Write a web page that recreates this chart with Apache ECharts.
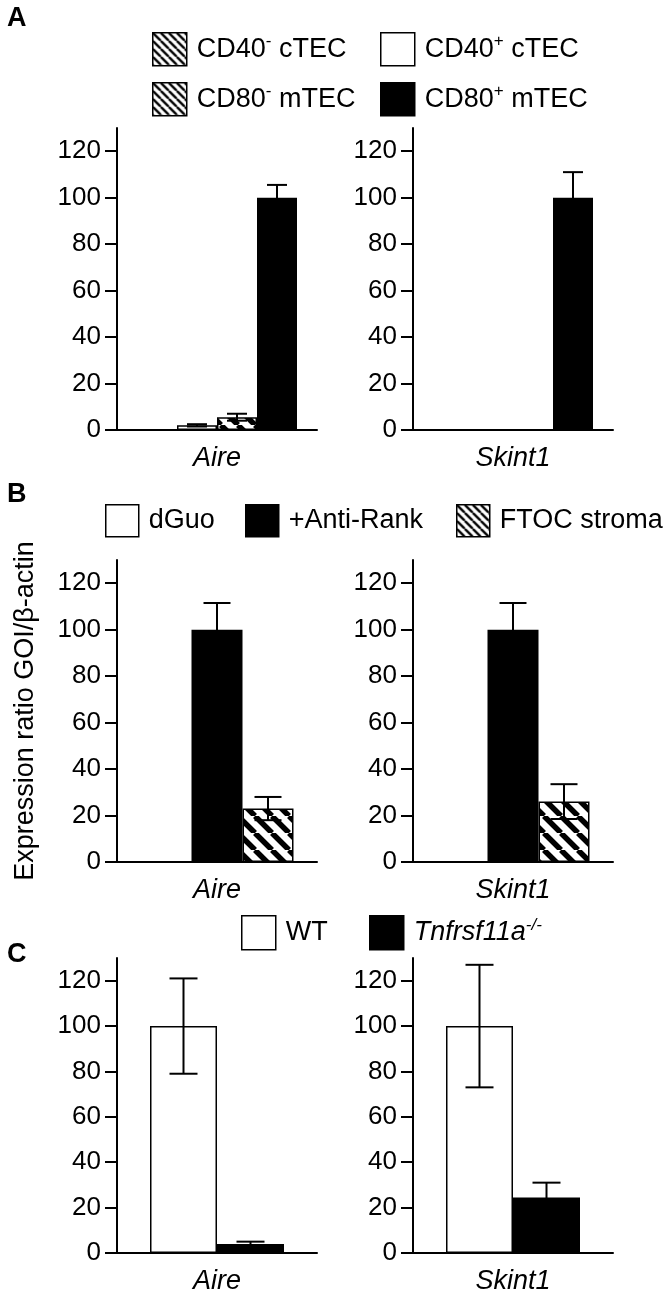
<!DOCTYPE html>
<html>
<head>
<meta charset="utf-8">
<script src="https://cdn.jsdelivr.net/npm/echarts@6.0.0/dist/echarts.min.js"></script>
<style>
  html, body { margin: 0; padding: 0; background: #fff; }
  #chart { width: 664px; height: 1295px; }
</style>
</head>
<body>
<div id="chart"></div>
<script>
const genes = ['Aire', 'Skint1'];
const yTicks = [0, 20, 40, 60, 80, 100, 120];

// panel A: sorted TEC subsets
const aGroups = ['CD40- cTEC', 'CD40+ cTEC', 'CD80- mTEC', 'CD80+ mTEC'];
const aAire = [0, 2, 5.5, 100];
const aAireErr = [0, 0.5, 1.5, 5.5];
const aSkint = [0, 0, 0, 100];
const aSkintErr = [0, 0, 0, 11];

// panel B: FTOC treatments
const bGroups = ['dGuo', '+Anti-Rank', 'FTOC stroma'];
const bAire = [0, 100, 23];
const bAireErr = [0, 11.5, 5];
const bSkint = [0, 100, 26];
const bSkintErr = [0, 11.5, 7.5];

// panel C: genotypes
const cGroups = ['WT', 'Tnfrsf11a-/-'];
const cAire = [100, 4];
const cAireErr = [21, 1];
const cSkint = [100, 24.5];
const cSkintErr = [27, 6.5];

const FONT = '"Liberation Sans", Arial, Helvetica, sans-serif';

function makeHatch(period, lw) {
  const c = document.createElement('canvas');
  c.width = c.height = period;
  const ctx = c.getContext('2d');
  ctx.fillStyle = '#fff';
  ctx.fillRect(0, 0, period, period);
  ctx.strokeStyle = '#000';
  ctx.lineWidth = lw;
  ctx.beginPath();
  for (const o of [-period, 0, period]) {
    ctx.moveTo(o, 0);
    ctx.lineTo(o + period, period);
  }
  ctx.stroke();
  return c;
}

const barFill = { white: '#fff', black: '#000', hatch: { image: makeHatch(17, 5.5), repeat: 'repeat' } };
const keyFill = { white: '#fff', black: '#000', hatch: { image: makeHatch(8, 2.4), repeat: 'repeat' } };

const panels = [
  { groups: aGroups, fills: ['hatch', 'white', 'hatch', 'black'], vals: [aAire, aSkint], errs: [aAireErr, aSkintErr], top: 128, barW: 40, cap: 20 },
  { groups: bGroups, fills: ['white', 'black', 'hatch'], vals: [bAire, bSkint], errs: [bAireErr, bSkintErr], top: 560, barW: 51, cap: 27 },
  { groups: cGroups, fills: ['white', 'black'], vals: [cAire, cSkint], errs: [cAireErr, cSkintErr], top: 958, barW: 67, cap: 28 }
];
const gridLefts = [117, 413];

function errorBars(n, barW, capW) {
  return function (params, api) {
    const slot = api.value(1), v = api.value(2), e = api.value(3);
    if (!e) return null;
    const mid = api.coord([api.value(0), v]);
    const x = mid[0] + (slot - (n - 1) / 2) * barW;
    const yHi = api.coord([api.value(0), v + e])[1];
    const yLo = api.coord([api.value(0), v - e])[1];
    const st = { stroke: '#000', lineWidth: 2 };
    return {
      type: 'group',
      children: [
        { type: 'line', shape: { x1: x, y1: yHi, x2: x, y2: yLo }, style: st },
        { type: 'line', shape: { x1: x - capW / 2, y1: yHi, x2: x + capW / 2, y2: yHi }, style: st },
        { type: 'line', shape: { x1: x - capW / 2, y1: yLo, x2: x + capW / 2, y2: yLo }, style: st }
      ]
    };
  };
}

const grid = [], xAxis = [], yAxis = [], series = [];
panels.forEach((p, pi) => {
  genes.forEach((gene, gi) => {
    const idx = pi * 2 + gi;
    grid.push({ left: gridLefts[gi], top: p.top, width: 200, height: 302 });
    xAxis.push({
      gridIndex: idx, type: 'category', data: [gene],
      axisTick: { show: false },
      axisLine: { lineStyle: { color: '#000', width: 2 } },
      axisLabel: { color: '#000', fontSize: 27, fontStyle: 'italic', fontFamily: FONT, margin: 15 }
    });
    const y = {
      gridIndex: idx, type: 'value', min: 0, max: 130, interval: 20,
      axisLine: { show: true, lineStyle: { color: '#000', width: 2 } },
      axisTick: { show: true, length: 12, lineStyle: { color: '#000', width: 2 }, customValues: yTicks },
      axisLabel: { color: '#000', fontSize: 26, fontFamily: FONT, margin: 16, customValues: yTicks },
      splitLine: { show: false }
    };
    if (idx === 2) {
      y.name = 'Expression ratio GOI/β-actin';
      y.nameLocation = 'middle';
      y.nameGap = 78;
      y.nameTextStyle = { color: '#000', fontSize: 27, fontFamily: FONT };
    }
    yAxis.push(y);
    p.groups.forEach((g, i) => {
      series.push({
        name: g, type: 'bar', xAxisIndex: idx, yAxisIndex: idx,
        data: [p.vals[gi][i]],
        barWidth: p.barW, barGap: '0%',
        itemStyle: { color: barFill[p.fills[i]], borderColor: '#000', borderWidth: 1.5 },
        silent: true
      });
    });
    series.push({
      type: 'custom', xAxisIndex: idx, yAxisIndex: idx, z: 5, silent: true,
      encode: { x: 0, y: 2 },
      data: p.groups.map((g, i) => [0, i, p.vals[gi][i], p.errs[gi][i]]),
      renderItem: errorBars(p.groups.length, p.barW, p.cap)
    });
  });
});

const keyText = {
  'CD40- cTEC': '{t|CD40}{s|-}{t| cTEC}',
  'CD40+ cTEC': '{t|CD40}{s|+}{t| cTEC}',
  'CD80- mTEC': '{t|CD80}{s|-}{t| mTEC}',
  'CD80+ mTEC': '{t|CD80}{s|+}{t| mTEC}',
  'dGuo': '{t|dGuo}',
  '+Anti-Rank': '{t|+Anti-Rank}',
  'FTOC stroma': '{t|FTOC stroma}',
  'WT': '{t|WT}',
  'Tnfrsf11a-/-': '{i|Tnfrsf11a}{si|-/-}'
};

function key(name, fill, left, top, w, h) {
  return {
    left: left, top: top, orient: 'horizontal', selectedMode: false,
    itemWidth: w, itemHeight: h, icon: 'rect',
    data: [{ name: name, itemStyle: { color: keyFill[fill], borderColor: '#000', borderWidth: 1.5 } }],
    formatter: n => keyText[n],
    textStyle: {
      padding: [0, 0, 0, 5],
      rich: {
        t: { fontSize: 27, fontFamily: FONT, color: '#000', lineHeight: 32 },
        s: { fontSize: 17, fontFamily: FONT, color: '#000', lineHeight: 18, verticalAlign: 'top' },
        i: { fontSize: 27, fontFamily: FONT, fontStyle: 'italic', color: '#000', lineHeight: 32 },
        si: { fontSize: 17, fontFamily: FONT, fontStyle: 'italic', color: '#000', lineHeight: 18, verticalAlign: 'top' }
      }
    }
  };
}

const legend = [
  key('CD40- cTEC', 'hatch', 147, 27, 34, 33),
  key('CD40+ cTEC', 'white', 375, 27, 34, 33),
  key('CD80- mTEC', 'hatch', 147, 77, 34, 33),
  key('CD80+ mTEC', 'black', 375, 77, 34, 33),
  key('dGuo', 'white', 100, 499, 33, 32),
  key('+Anti-Rank', 'black', 240, 499, 33, 32),
  key('FTOC stroma', 'hatch', 451, 499, 33, 32),
  key('WT', 'white', 236, 910, 34, 34),
  key('Tnfrsf11a-/-', 'black', 364, 910, 34, 34)
];

const letterStyle = { color: '#000', fontSize: 27, fontWeight: 'bold', fontFamily: FONT };
const title = [
  { text: 'A', left: 2, top: 0, textStyle: letterStyle },
  { text: 'B', left: 2, top: 476, textStyle: letterStyle },
  { text: 'C', left: 2, top: 936, textStyle: letterStyle }
];

const chart = echarts.init(document.getElementById('chart'));
chart.setOption({
  animation: false,
  backgroundColor: '#fff',
  title: title,
  legend: legend,
  grid: grid,
  xAxis: xAxis,
  yAxis: yAxis,
  series: series
});
</script>
</body>
</html>
